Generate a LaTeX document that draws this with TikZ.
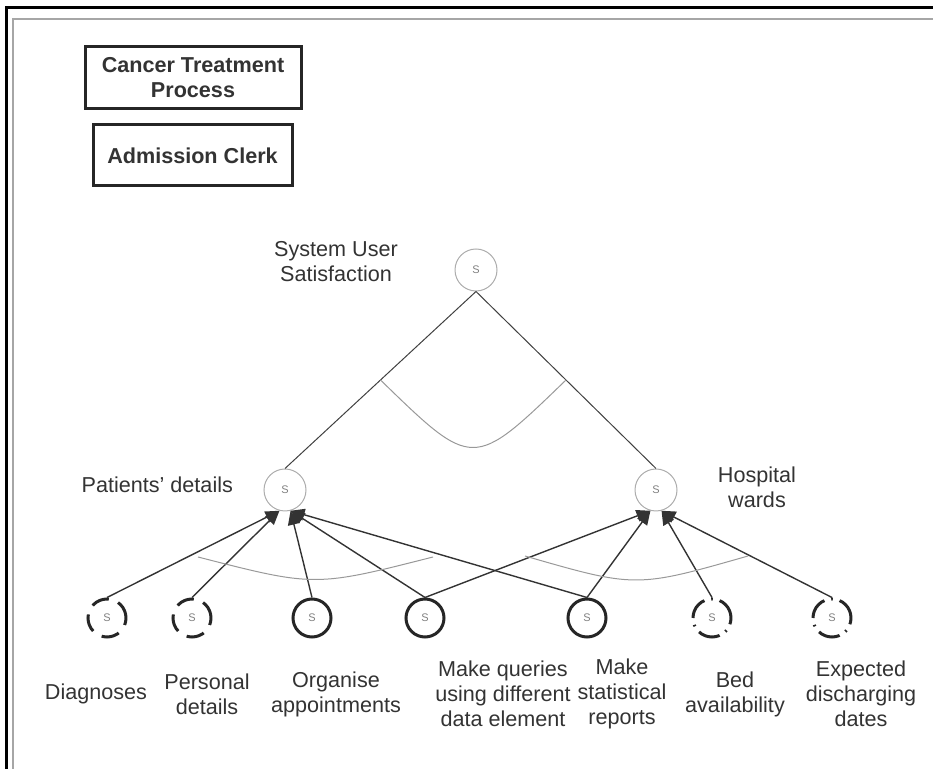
\documentclass[tikz,border=0pt]{standalone}
\usepackage{fontspec}
\setmainfont{Liberation Sans}
\usetikzlibrary{positioning,arrows.meta,calc}

\begin{document}
\begin{tikzpicture}[x=0.5pt, y=-0.5pt, font=\fontsize{10.8}{12.5}\selectfont, text=black!80,
  goal/.style={circle, draw=gray!65, line width=0.5pt, minimum size=21pt, inner sep=0pt,
    font=\fontsize{5.5}{6}\selectfont, text=gray},
  task/.style={goal, draw=black!85, line width=1.5pt, minimum size=19pt},
  taskdash/.style={task, dash pattern=on 9pt off 5pt},
  taskdot/.style={task, dash pattern=on 11pt off 3.5pt on 0.8pt off 3.5pt},
  box/.style={draw=black!85, line width=1.5pt, inner sep=0pt, align=center,
    font=\bfseries\fontsize{10.8}{12.5}\selectfont},
  link/.style={-{Triangle[length=7pt,width=6pt]}, draw=black!80, line width=0.7pt},
  andarc/.style={draw=gray!80, line width=0.5pt}]
  \useasboundingbox (0,0) rectangle (933,769);
  % page frame
  \draw[line width=1.5pt] (6,769) -- (6,8) -- (933,8);
  \draw[gray!70, line width=1pt] (13,769) -- (13,19) -- (933,19);
  % header boxes
  \node[box, minimum width=108pt, minimum height=31pt] (proc) at (193,78) {Cancer Treatment\\Process};
  \node[box, minimum width=99.5pt, minimum height=30.5pt] (actor) at (192.5,155.5) {Admission Clerk};
  % softgoals
  \node[goal] (usr) at (476,270) {S};
  \node[goal] (pat) at (285,490) {S};
  \node[goal] (hos) at (656,490) {S};
  \node[align=center] (usr-lbl) at (336,262) {System User\\Satisfaction};
  \node[anchor=east] (pat-lbl) at (240,485) {Patients' details};
  \node[align=center] (hos-lbl) at (757,487) {Hospital\\wards};
  % leaf tasks
  \node[taskdash] (dia) at (107,618) {S};
  \node[taskdash] (per) at (192,618) {S};
  \node[task] (org) at (312,618) {S};
  \node[task] (qry) at (425,618) {S};
  \node[task] (rep) at (587,618) {S};
  \node[taskdot] (bed) at (712,618) {S};
  \node[taskdot] (dis) at (832,618) {S};
  \foreach \n/\x/\t in {dia/96/Diagnoses, per/207/Personal\\details,
      org/336/Organise\\appointments, qry/503/Make queries\\using different\\data element,
      rep/622/Make\\statistical\\reports, bed/735/Bed\\availability,
      dis/861/Expected\\discharging\\dates}
    \node[align=center] (\n-lbl) at (\x,694) {\t};
  % decomposition of the top softgoal
  \draw[black!75, line width=0.5pt] (usr.south) -- (pat.north);
  \draw[black!75, line width=0.5pt] (usr.south) -- (hos.north);
  \draw[andarc] ($(usr.south)!0.5!(pat.north)$) .. controls (473,470) .. ($(usr.south)!0.5!(hos.north)$);
  % contributions to Patients' details
  \draw[link] (dia.north) -- (pat.-105);
  \draw[link] (per.north) -- (pat.-105);
  \draw[link] (org.north) -- (pat.-75);
  \draw[link] (qry.north) -- (pat.-75);
  \draw[link] (rep.north) -- (pat.-75);
  \draw[andarc] (198,557) .. controls (315,587) .. (433,557);
  % contributions to Hospital wards
  \draw[link] (qry.north) -- (hos.-105);
  \draw[link] (rep.north) -- (hos.-105);
  \draw[link] (bed.north) -- (hos.-75);
  \draw[link] (dis.north) -- (hos.-75);
  \draw[andarc] (525,556) .. controls (636,588) .. (748,556);
\end{tikzpicture}
\end{document}
